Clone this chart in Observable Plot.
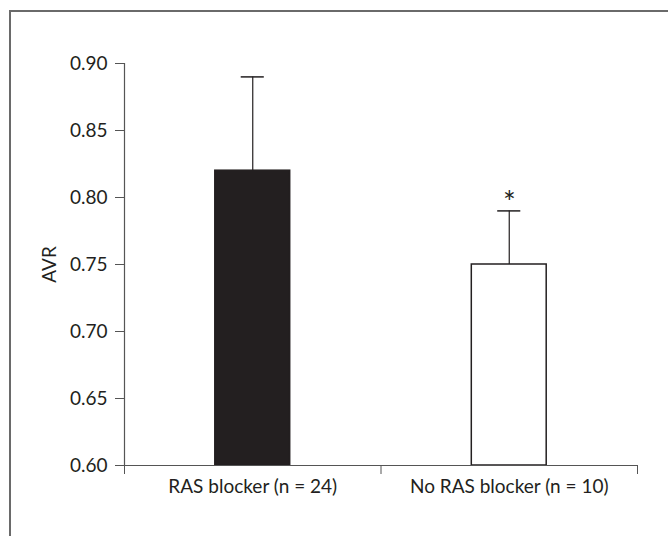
<!DOCTYPE html>
<html>
<head>
<meta charset="utf-8">
<script src="https://cdn.jsdelivr.net/npm/d3@7"></script>
<script src="https://cdn.jsdelivr.net/npm/@observablehq/plot@0.6"></script>
<style>
  html, body { margin: 0; padding: 0; background: #fff; }
  #wrap { position: relative; width: 668px; height: 536px; overflow: hidden; }
  #frame { position: absolute; left: 9px; top: 10px; right: -4px; bottom: -4px;
           border-top: 2px solid #6a6a6a; border-left: 2px solid #6a6a6a; pointer-events: none; }
  #chart { position: absolute; left: 0; top: 0; }
</style>
</head>
<body>
<div id="wrap"><div id="chart"></div><div id="frame"></div></div>
<script>
const categories = ["RAS blocker (n = 24)", "No RAS blocker (n = 10)"];
const means = [0.82, 0.75];
const upperErrors = [0.07, 0.04];
const barFills = ["#231f20", "#ffffff"];
const significance = ["", "*"];
const yTicks = [0.60, 0.65, 0.70, 0.75, 0.80, 0.85, 0.90];
const yDomain = [0.60, 0.90];

const rows = categories.map((c, i) => ({
  cat: c, i, mean: means[i], upper: means[i] + upperErrors[i],
  fill: barFills[i], sig: significance[i]
}));

const halfBar = 0.146;
const halfCap = 0.045;
const ink = "#231f20";

const chart = Plot.plot({
  width: 668,
  height: 536,
  marginTop: 63,
  marginBottom: 71,
  marginLeft: 124,
  marginRight: 31,
  style: { fontFamily: "Lato, 'Open Sans', sans-serif", fontSize: "19px", color: ink, background: "transparent" },
  x: { type: "linear", domain: [0, categories.length] },
  y: { domain: yDomain },
  color: { type: "identity" },
  marks: [
    Plot.rectY(rows, { x1: d => d.i + 0.5 - halfBar, x2: d => d.i + 0.5 + halfBar, y1: yDomain[0], y2: "mean", fill: "fill", stroke: ink, strokeWidth: 1.5 }),
    Plot.ruleX(rows, { x: d => d.i + 0.5, y1: "mean", y2: "upper", stroke: ink, strokeWidth: 1.2 }),
    Plot.ruleY(rows, { y: "upper", x1: d => d.i + 0.5 - halfCap, x2: d => d.i + 0.5 + halfCap, stroke: ink, strokeWidth: 1.5 }),
    Plot.text(rows, { x: d => d.i + 0.5, y: "upper", text: "sig", dy: -8, fontSize: 30, fill: ink }),
    Plot.ruleX([0], { stroke: "#555", strokeWidth: 1.2 }),
    Plot.ruleY([yDomain[0]], { stroke: "#555", strokeWidth: 1.2 }),
    Plot.axisY({ ticks: yTicks, tickFormat: d3.format(".2f"), tickSize: 9, tickPadding: 8, stroke: "#555", fontSize: 19,
                 label: "AVR", labelAnchor: "center", labelArrow: false, labelOffset: 82 }),
    Plot.axisX({ ticks: d3.range(categories.length + 1), tickFormat: () => "", tickSize: 9, stroke: "#555", label: null }),
    Plot.axisX({ ticks: categories.map((c, i) => i + 0.5), tickFormat: d => categories[Math.floor(d)], tickSize: 0, tickPadding: 14, fontSize: 19, label: null })
  ]
});
document.getElementById("chart").appendChild(chart);
</script>
</body>
</html>
